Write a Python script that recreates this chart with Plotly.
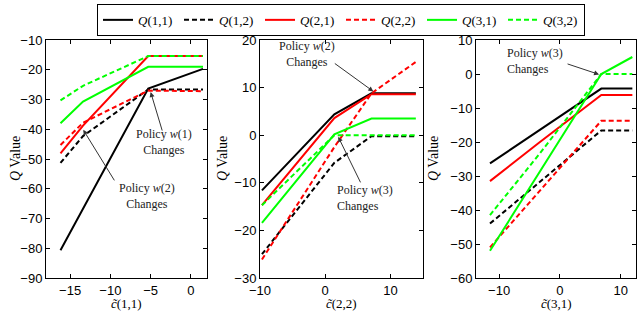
import plotly.graph_objects as go

# ---------------- data ----------------
series_names = ["Q(1,1)", "Q(1,2)", "Q(2,1)", "Q(2,2)", "Q(3,1)", "Q(3,2)"]
legend_labels = ["<i>Q</i>(1,1)", "<i>Q</i>(1,2)", "<i>Q</i>(2,1)",
                 "<i>Q</i>(2,2)", "<i>Q</i>(3,1)", "<i>Q</i>(3,2)"]

# panel 1: c~(1,1)
x1 = [-16.2, -13.4, -5.3, 1.5]
p1_q11 = [-80.7, -66.7, -26.3, -19.7]
p1_q12 = [-51.3, -42.3, -26.6, -26.6]
p1_q21 = [-48.1, -38.8, -15.4, -15.4]
p1_q22 = [-45.3, -37.8, -27.0, -27.2]
p1_q31 = [-38.0, -30.7, -19.0, -19.0]
p1_q32 = [-30.3, -25.4, -15.4, -15.4]

# panel 2: c~(2,2)
x2 = [-9.7, 1.4, 7.1, 13.9]
p2_q11 = [-11.6, 4.4, 8.8, 8.8]
p2_q12 = [-25.0, -5.8, -0.2, -0.2]
p2_q21 = [-14.7, 3.6, 8.6, 8.6]
p2_q22 = [-26.1, -2.5, 8.8, 15.4]
p2_q31 = [-18.4, 0.2, 3.5, 3.5]
p2_q32 = [-14.7, 0.0, 0.0, 0.0]

# panel 3: c~(3,1)
x3 = [-11.5, -3.5, 6.8, 11.9]
p3_q11 = [-26.3, -16.6, -4.3, -4.3]
p3_q12 = [-44.0, -32.0, -16.6, -16.6]
p3_q21 = [-31.5, -20.3, -6.2, -6.2]
p3_q22 = [-51.0, -34.7, -13.75, -13.75]
p3_q31 = [-52.0, -29.3, 0.0, 5.0]
p3_q32 = [-41.5, -23.8, 0.0, 0.0]

x_titles = ["<i>c̃</i>(1,1)", "<i>c̃</i>(2,2)", "<i>c̃</i>(3,1)"]
y_title = "<i>Q</i> Value"

# ---------------- styling ----------------
colors = ["#000000", "#000000", "#ff0000", "#ff0000", "#00ff00", "#00ff00"]
dashes = ["solid", "5px,3px", "solid", "5px,3px", "solid", "5px,3px"]

W, H = 640, 314
ML, MR, MT, MB = 46, 4, 34, 36
PW, PH = W - ML - MR, H - MT - MB


def fx(px):
    return (px - ML) / PW


def fy(py):
    return (H - MB - py) / PH


domains = [[fx(46), fx(207)], [fx(260), fx(423)], [fx(476), fx(636)]]
xranges = [[-18, 2], [-10, 15], [-13.8, 12.5]]
yranges = [[-90, -10], [-30, 20], [-60, 10]]
xdticks = [5, 10, 10]

panels = [
    (x1, [p1_q11, p1_q12, p1_q21, p1_q22, p1_q31, p1_q32]),
    (x2, [p2_q11, p2_q12, p2_q21, p2_q22, p2_q31, p2_q32]),
    (x3, [p3_q11, p3_q12, p3_q21, p3_q22, p3_q31, p3_q32]),
]

fig = go.Figure()
for pi, (xs, ys_list) in enumerate(panels):
    xa = "x" if pi == 0 else f"x{pi+1}"
    ya = "y" if pi == 0 else f"y{pi+1}"
    for si, ys in enumerate(ys_list):
        fig.add_trace(go.Scatter(
            x=xs, y=ys, mode="lines", name=legend_labels[si],
            line=dict(color=colors[si], width=2, dash=dashes[si]),
            showlegend=(pi == 0), xaxis=xa, yaxis=ya,
        ))

tickfont = dict(family="Liberation Sans", size=13, color="black")
axis_common = dict(showgrid=False, zeroline=False, showline=True,
                   linecolor="black", linewidth=1, mirror="ticks",
                   ticks="inside", ticklen=4, tickcolor="black",
                   tickfont=tickfont)
layout = dict(
    width=W, height=H, margin=dict(l=ML, r=MR, t=MT, b=MB),
    paper_bgcolor="white", plot_bgcolor="white",
    legend=dict(orientation="h", x=fx(97), y=fy(-3), xanchor="left",
                yanchor="top", bordercolor="black", borderwidth=1,
                font=dict(family="Liberation Serif", size=13, color="black"),
                bgcolor="white", tracegroupgap=0, entrywidth=36),
)
for pi in range(3):
    xk = "xaxis" if pi == 0 else f"xaxis{pi+1}"
    yk = "yaxis" if pi == 0 else f"yaxis{pi+1}"
    layout[xk] = dict(axis_common, domain=domains[pi], range=xranges[pi],
                      dtick=xdticks[pi], anchor="y" if pi == 0 else f"y{pi+1}")
    layout[yk] = dict(axis_common, domain=[0, 1], range=yranges[pi], dtick=10,
                      anchor="x" if pi == 0 else f"x{pi+1}")
fig.update_layout(**layout)

serif = dict(family="Liberation Serif", size=14, color="black")
xserif = dict(family="Liberation Serif", size=13, color="black")
ann = []
# axis titles
ytitle_x = [15, 222, 433]
for pi in range(3):
    ann.append(dict(text=y_title, xref="paper", yref="paper",
                    x=fx(ytitle_x[pi]), y=fy(156), textangle=-90,
                    showarrow=False, font=serif,
                    xanchor="center", yanchor="middle"))
    cx = (domains[pi][0] + domains[pi][1]) / 2
    ann.append(dict(text=x_titles[pi], xref="paper", yref="paper",
                    x=cx, y=fy(314), showarrow=False, font=xserif,
                    xanchor="center", yanchor="bottom"))

# arrows (head in data coords, tail as pixel offset)
arrow_style = dict(showarrow=True, arrowhead=2, arrowsize=1, arrowwidth=1,
                   arrowcolor="#333333", text="")
arrows = [
    ("x", "y", -5.0, -27.5, 12, 40),
    ("x", "y", -13.37, -40.2, 32, 52),
    ("x2", "y2", 7.38, 9.2, -40, -29),
    ("x2", "y2", 2.0, -0.35, 23, 47),
    ("x3", "y3", 6.43, -0.13, -33, -11),
]
for xr, yr, hx, hy, ax, ay in arrows:
    ann.append(dict(arrow_style, xref=xr, yref=yr, x=hx, y=hy, ax=ax, ay=ay))

note_font = dict(family="Liberation Serif", size=12, color="#222222")
notes = [
    ("Policy <i>w</i>(1)<br>Changes", 164, 139, "center"),
    ("Policy <i>w</i>(2)<br>Changes", 147, 194, "center"),
    ("Policy <i>w</i>(2)<br>Changes", 307, 48, "center"),
    ("Policy <i>w</i>(3)<br>Changes", 335, 196, "left"),
    ("Policy <i>w</i>(3)<br>Changes", 505, 56, "left"),
]
for txt, px, py, al in notes:
    ann.append(dict(text=txt, xref="paper", yref="paper", x=fx(px), y=fy(py),
                    showarrow=False, font=note_font, align=al,
                    xanchor=al, yanchor="middle"))
fig.update_layout(annotations=ann)

fig.write_html("out.html",
               config={"displayModeBar": False},
               post_script="document.body.style.margin='0';"
                           "document.body.style.overflow='hidden';")
